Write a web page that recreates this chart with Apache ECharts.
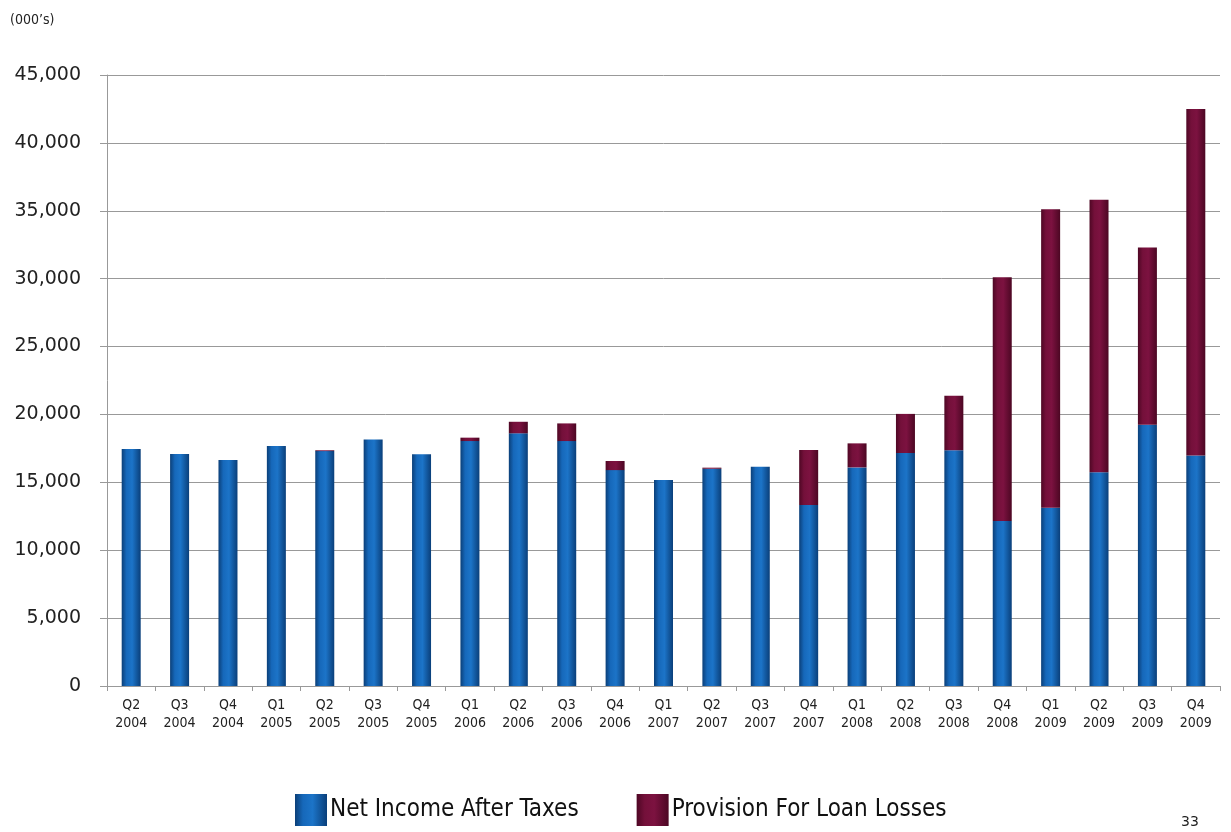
<!DOCTYPE html>
<html>
<head>
<meta charset="utf-8">
<script src="https://cdn.jsdelivr.net/npm/echarts@6/dist/echarts.min.js"></script>
<style>
html,body{margin:0;padding:0;background:#fff;}
#c{width:1231px;height:832px;}
</style>
</head>
<body>
<div id="c"></div>
<script>
var categories = ["Q2\n2004","Q3\n2004","Q4\n2004","Q1\n2005","Q2\n2005","Q3\n2005","Q4\n2005","Q1\n2006","Q2\n2006","Q3\n2006","Q4\n2006","Q1\n2007","Q2\n2007","Q3\n2007","Q4\n2007","Q1\n2008","Q2\n2008","Q3\n2008","Q4\n2008","Q1\n2009","Q2\n2009","Q3\n2009","Q4\n2009"];
var netIncome = [17450,17080,16640,17670,17300,18160,17060,18040,18610,18040,15900,15170,16000,16150,13330,16100,17160,17360,12160,13130,15750,19250,16980];
var provision = [0,0,0,0,60,0,0,250,850,1300,670,0,80,0,4050,1770,2880,4020,17940,21990,20070,13040,25520];
var yTicks = {min:0, max:45000, interval:5000};

var blue = new echarts.graphic.LinearGradient(0,0,1,0,[
  {offset:0,color:'#0b3f78'},{offset:0.25,color:'#1668ba'},{offset:0.55,color:'#1c74c8'},{offset:1,color:'#0a3f7a'}]);
var maroon = new echarts.graphic.LinearGradient(0,0,1,0,[
  {offset:0,color:'#4e0724'},{offset:0.25,color:'#74103a'},{offset:0.55,color:'#7c1240'},{offset:1,color:'#4c0723'}]);

var chart = echarts.init(document.getElementById('c'));
chart.setOption({
  animation:false,
  backgroundColor:'#fff',
  grid:{left:107,right:11,top:75,bottom:146,containLabel:false},
  graphic:[
    {type:'text',left:10,top:13,style:{text:"(000\u2019s)",font:'14px "DejaVu Sans Condensed", "DejaVu Sans"',fill:'#222'}},
    {type:'text',left:1181,top:815,style:{text:"33",font:'14px "DejaVu Sans"',fill:'#222'}}
  ],
  legend:{
    left:290, top:789, itemWidth:32, itemHeight:32, itemGap:58, icon:'rect',
    textStyle:{fontSize:24, color:'#111', fontFamily:'"DejaVu Sans Condensed", "DejaVu Sans"', padding:[0,0,0,-2]},
    data:['Net Income After Taxes','Provision For Loan Losses']
  },
  xAxis:{
    type:'category', data:categories,
    axisLine:{lineStyle:{color:'#999',width:1}},
    axisTick:{show:true,length:5,lineStyle:{color:'#999'}},
    axisLabel:{fontSize:14,lineHeight:18,color:'#222',margin:10,interval:0,fontFamily:'"DejaVu Sans Condensed", "DejaVu Sans"'}
  },
  yAxis:{
    type:'value', min:yTicks.min, max:yTicks.max, interval:yTicks.interval,
    axisLine:{show:true,lineStyle:{color:'#999'}},
    axisTick:{show:true,length:7,lineStyle:{color:'#999'}},
    splitLine:{lineStyle:{color:'#999',width:1}},
    axisLabel:{fontSize:19,color:'#222',margin:26,fontFamily:'"DejaVu Sans"',
      formatter:function(v){return v.toLocaleString('en-US');}}
  },
  series:[
    {name:'Net Income After Taxes',type:'bar',stack:'s',data:netIncome,barWidth:19,
      itemStyle:{color:blue}},
    {name:'Provision For Loan Losses',type:'bar',stack:'s',data:provision,barWidth:19,
      itemStyle:{color:maroon}}
  ]
});
</script>
</body>
</html>
